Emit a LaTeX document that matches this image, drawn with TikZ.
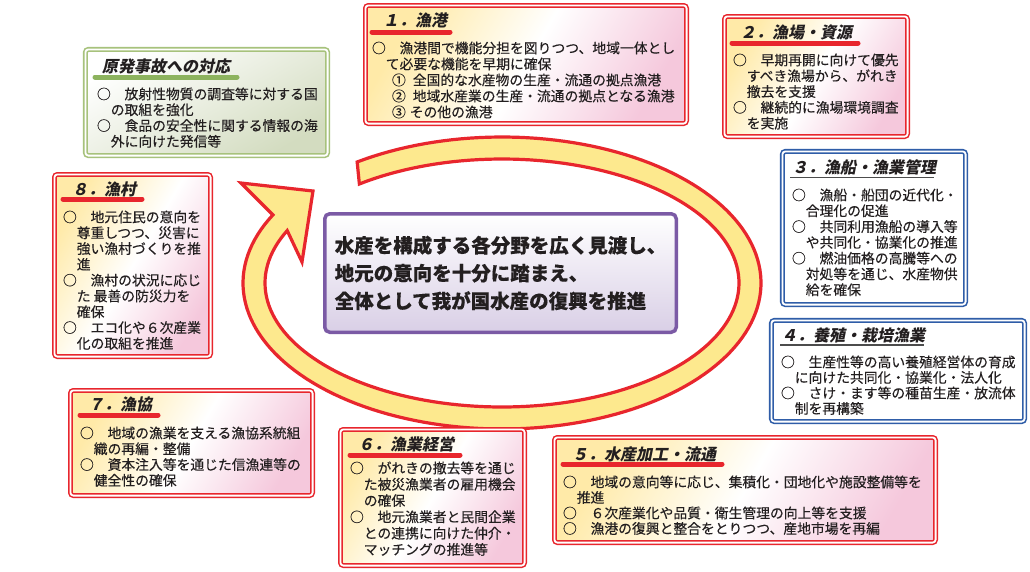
\documentclass[tikz,border=0pt]{standalone}
\usepackage{fontspec}
\setmainfont[FakeBold=0.3]{Noto Sans CJK JP}
\newfontfamily\jptitle[FakeSlant=0.2]{Noto Sans CJK JP}
\definecolor{rbd}{HTML}{E8262D}
\definecolor{bbd}{HTML}{2F5DA8}
\definecolor{gbd}{HTML}{A7C27C}
\definecolor{gbar}{HTML}{8DB35E}
\definecolor{pbd}{HTML}{7B5AA5}
\definecolor{ringfill}{HTML}{FDE98E}
\definecolor{ylw}{HTML}{FFEAA8}
\definecolor{pnk}{HTML}{F5C8DC}
\definecolor{gfill}{HTML}{D3DCC0}
\definecolor{lav}{HTML}{D9CFE6}
\definecolor{ink}{HTML}{231F20}
\tikzset{
  redbox/.style={draw=rbd, double=white, double distance=1.8pt, line width=1.5pt, rounded corners=3pt, inner sep=0pt, outer sep=0pt, top color=ylw, bottom color=pnk, middle color=white, shading angle=60},
  bluebox/.style={draw=bbd, double=white, double distance=1.8pt, line width=1.6pt, rounded corners=3pt, inner sep=0pt, outer sep=0pt, fill=white},
  greenbox/.style={draw=gbd, double=white, double distance=1.8pt, line width=1.6pt, rounded corners=3pt, inner sep=0pt, outer sep=0pt, top color=white, bottom color=gfill, shading angle=30},
  centerbox/.style={draw=pbd, line width=3.5pt, rounded corners=5pt, top color=white, bottom color=lav, align=left, text=ink, font=\fontsize{19.5}{27.8}\selectfont\bfseries, inner sep=0pt},
  ringshape/.style={fill=ringfill, draw=rbd, line width=3.2pt, line join=miter},
  bodytext/.style={anchor=base west, inner sep=0pt, outer sep=0pt, text=ink, font=\fontsize{13.8}{16}\selectfont},
  titletext/.style={anchor=base west, inner sep=0pt, outer sep=0pt, text=ink, font=\fontsize{16}{18}\selectfont\jptitle\bfseries},
  redbar/.style={draw=rbd, line width=5pt, line cap=round},
  greenbar/.style={draw=gbar, line width=5pt, line cap=round},
  blueline/.style={draw=black!70, line width=1.1pt},
}
\newcommand\frameat[6]{\node[#1, minimum width={#5-#3-4.8}, minimum height={#6-#4-4.8}] (#2) at ({(#3+#5)/2},{(#4+#6)/2}) {};}
\newcommand\bodylines[5]{\foreach \bl [count=\i from 0] in {#5}{\node[bodytext] (#1-\i) at (#2,{#3+5.2+\i*#4}) {\bl};}}
\newcommand\titleat[4]{\node[titletext] (#1) at (#2,{#3+6.1}) {#4};}
\begin{document}
\begin{tikzpicture}[x=1pt,y=-1pt]
\fill[white] (0,0) rectangle (1030,571);
\useasboundingbox (0,0) rectangle (1030,571);

% ring arrow
\coordinate (hA) at (241,183);
\coordinate (hB) at (313,191);
\coordinate (hC) at (302,262);
\filldraw[ringshape] plot[domain=236:567.8, samples=160, variable=\t] ({502+259*cos(\t)},{283+146*sin(\t)})
  -- (hA) -- (hB) -- (hC)
  -- plot[domain=233:565, samples=160, variable=\t] ({502+237*cos(798-\t)},{283+124*sin(798-\t)}) -- cycle;

% center box
\node[centerbox, minimum width=351.5, minimum height=118.5] (core) at (500.5,273)
  {水産を構成する各分野を広く見渡し、\\地元の意向を十分に踏まえ、\\全体として我が国水産の復興を推進};

% frames
\frameat{redbox}{box1}{363}{3}{689}{126}
\frameat{redbox}{box2}{722}{14}{910}{139}
\frameat{greenbox}{box0}{83}{47}{330}{158}
\frameat{bluebox}{box3}{780}{149}{968}{307}
\frameat{bluebox}{box4}{769}{318}{1027}{424}
\frameat{redbox}{box8}{52}{172}{213}{359}
\frameat{redbox}{box7}{68}{388}{315}{498}
\frameat{redbox}{box6}{338}{427}{527}{568}
\frameat{redbox}{box5}{552}{435}{938}{545}

% title bars
\draw[redbar] (372,32) -- (450,32);
\draw[redbar] (732,43) -- (858,43);
\draw[greenbar] (95,77) -- (237,77);
\draw[blueline] (790,177.5) -- (934,177.5);
\draw[blueline] (780,345) -- (924,345);
\draw[redbar] (63,199) -- (142,199);
\draw[redbar] (80,415) -- (158,415);
\draw[redbar] (350,455) -- (460,455);
\draw[redbar] (563,464) -- (722,464);

% titles
\titleat{t1}{383}{20}{１．漁港}
\titleat{t2}{740}{32}{２．漁場・資源}
\titleat{t0}{102}{66}{原発事故への対応}
\titleat{t3}{792}{167}{３．漁船・漁業管理}
\titleat{t4}{781}{335}{４．養殖・栽培漁業}
\titleat{t8}{72}{189}{８．漁村}
\titleat{t7}{88}{404}{７．漁協}
\titleat{t6}{358}{444}{６．漁業経営}
\titleat{t5}{572}{454}{５．水産加工・流通}

% bodies
\bodylines{b1}{372}{48}{16}{{○　漁港間で機能分担を図りつつ、地域一体とし},{　て必要な機能を早期に確保},{\hspace*{20pt}①\hspace*{7pt}全国的な水産物の生産・流通の拠点漁港},{\hspace*{20pt}②\hspace*{7pt}地域水産業の生産・流通の拠点となる漁港},{\hspace*{20pt}③\hspace*{4pt}その他の漁港}}
\bodylines{b2}{733}{60}{15.8}{{○　早期再開に向けて優先},{　すべき漁場から、がれき},{　撤去を支援},{○　継続的に漁場環境調査},{　を実施}}
\bodylines{b0}{97}{94}{15.8}{{○　放射性物質の調査等に対する国},{　の取組を強化},{○　食品の安全性に関する情報の海},{　外に向けた発信等}}
\bodylines{b3}{792}{195}{15.8}{{○　漁船・船団の近代化・},{　合理化の促進},{○　共同利用漁船の導入等},{　や共同化・協業化の推進},{○　燃油価格の高騰等への},{　対処等を通じ、水産物供},{　給を確保}}
\bodylines{b4}{781}{362}{15.5}{{○　生産性等の高い養殖経営体の育成},{　に向けた共同化・協業化・法人化},{○　さけ・ます等の種苗生産・放流体},{　制を再構築}}
\bodylines{b8}{63}{217}{15.8}{{○　地元住民の意向を},{　尊重しつつ、災害に},{　強い漁村づくりを推},{　進},{○　漁村の状況に応じ},{　た 最善の防災力を},{　確保},{○　エコ化や６次産業},{　化の取組を推進}}
\bodylines{b7}{80}{433}{15.8}{{○　地域の漁業を支える漁協系統組},{　織の再編・整備},{○　資本注入等を通じた信漁連等の},{　健全性の確保}}
\bodylines{b6}{350}{468}{16.3}{{○　がれきの撤去等を通じ},{　た被災漁業者の雇用機会},{　の確保},{○　地元漁業者と民間企業},{　との連携に向けた仲介・},{　マッチングの推進等}}
\bodylines{b5}{563}{482}{15.5}{{○　地域の意向等に応じ、集積化・団地化や施設整備等を},{　推進},{○　６次産業化や品質・衛生管理の向上等を支援},{○　漁港の復興と整合をとりつつ、産地市場を再編}}
\end{tikzpicture}
\end{document}
